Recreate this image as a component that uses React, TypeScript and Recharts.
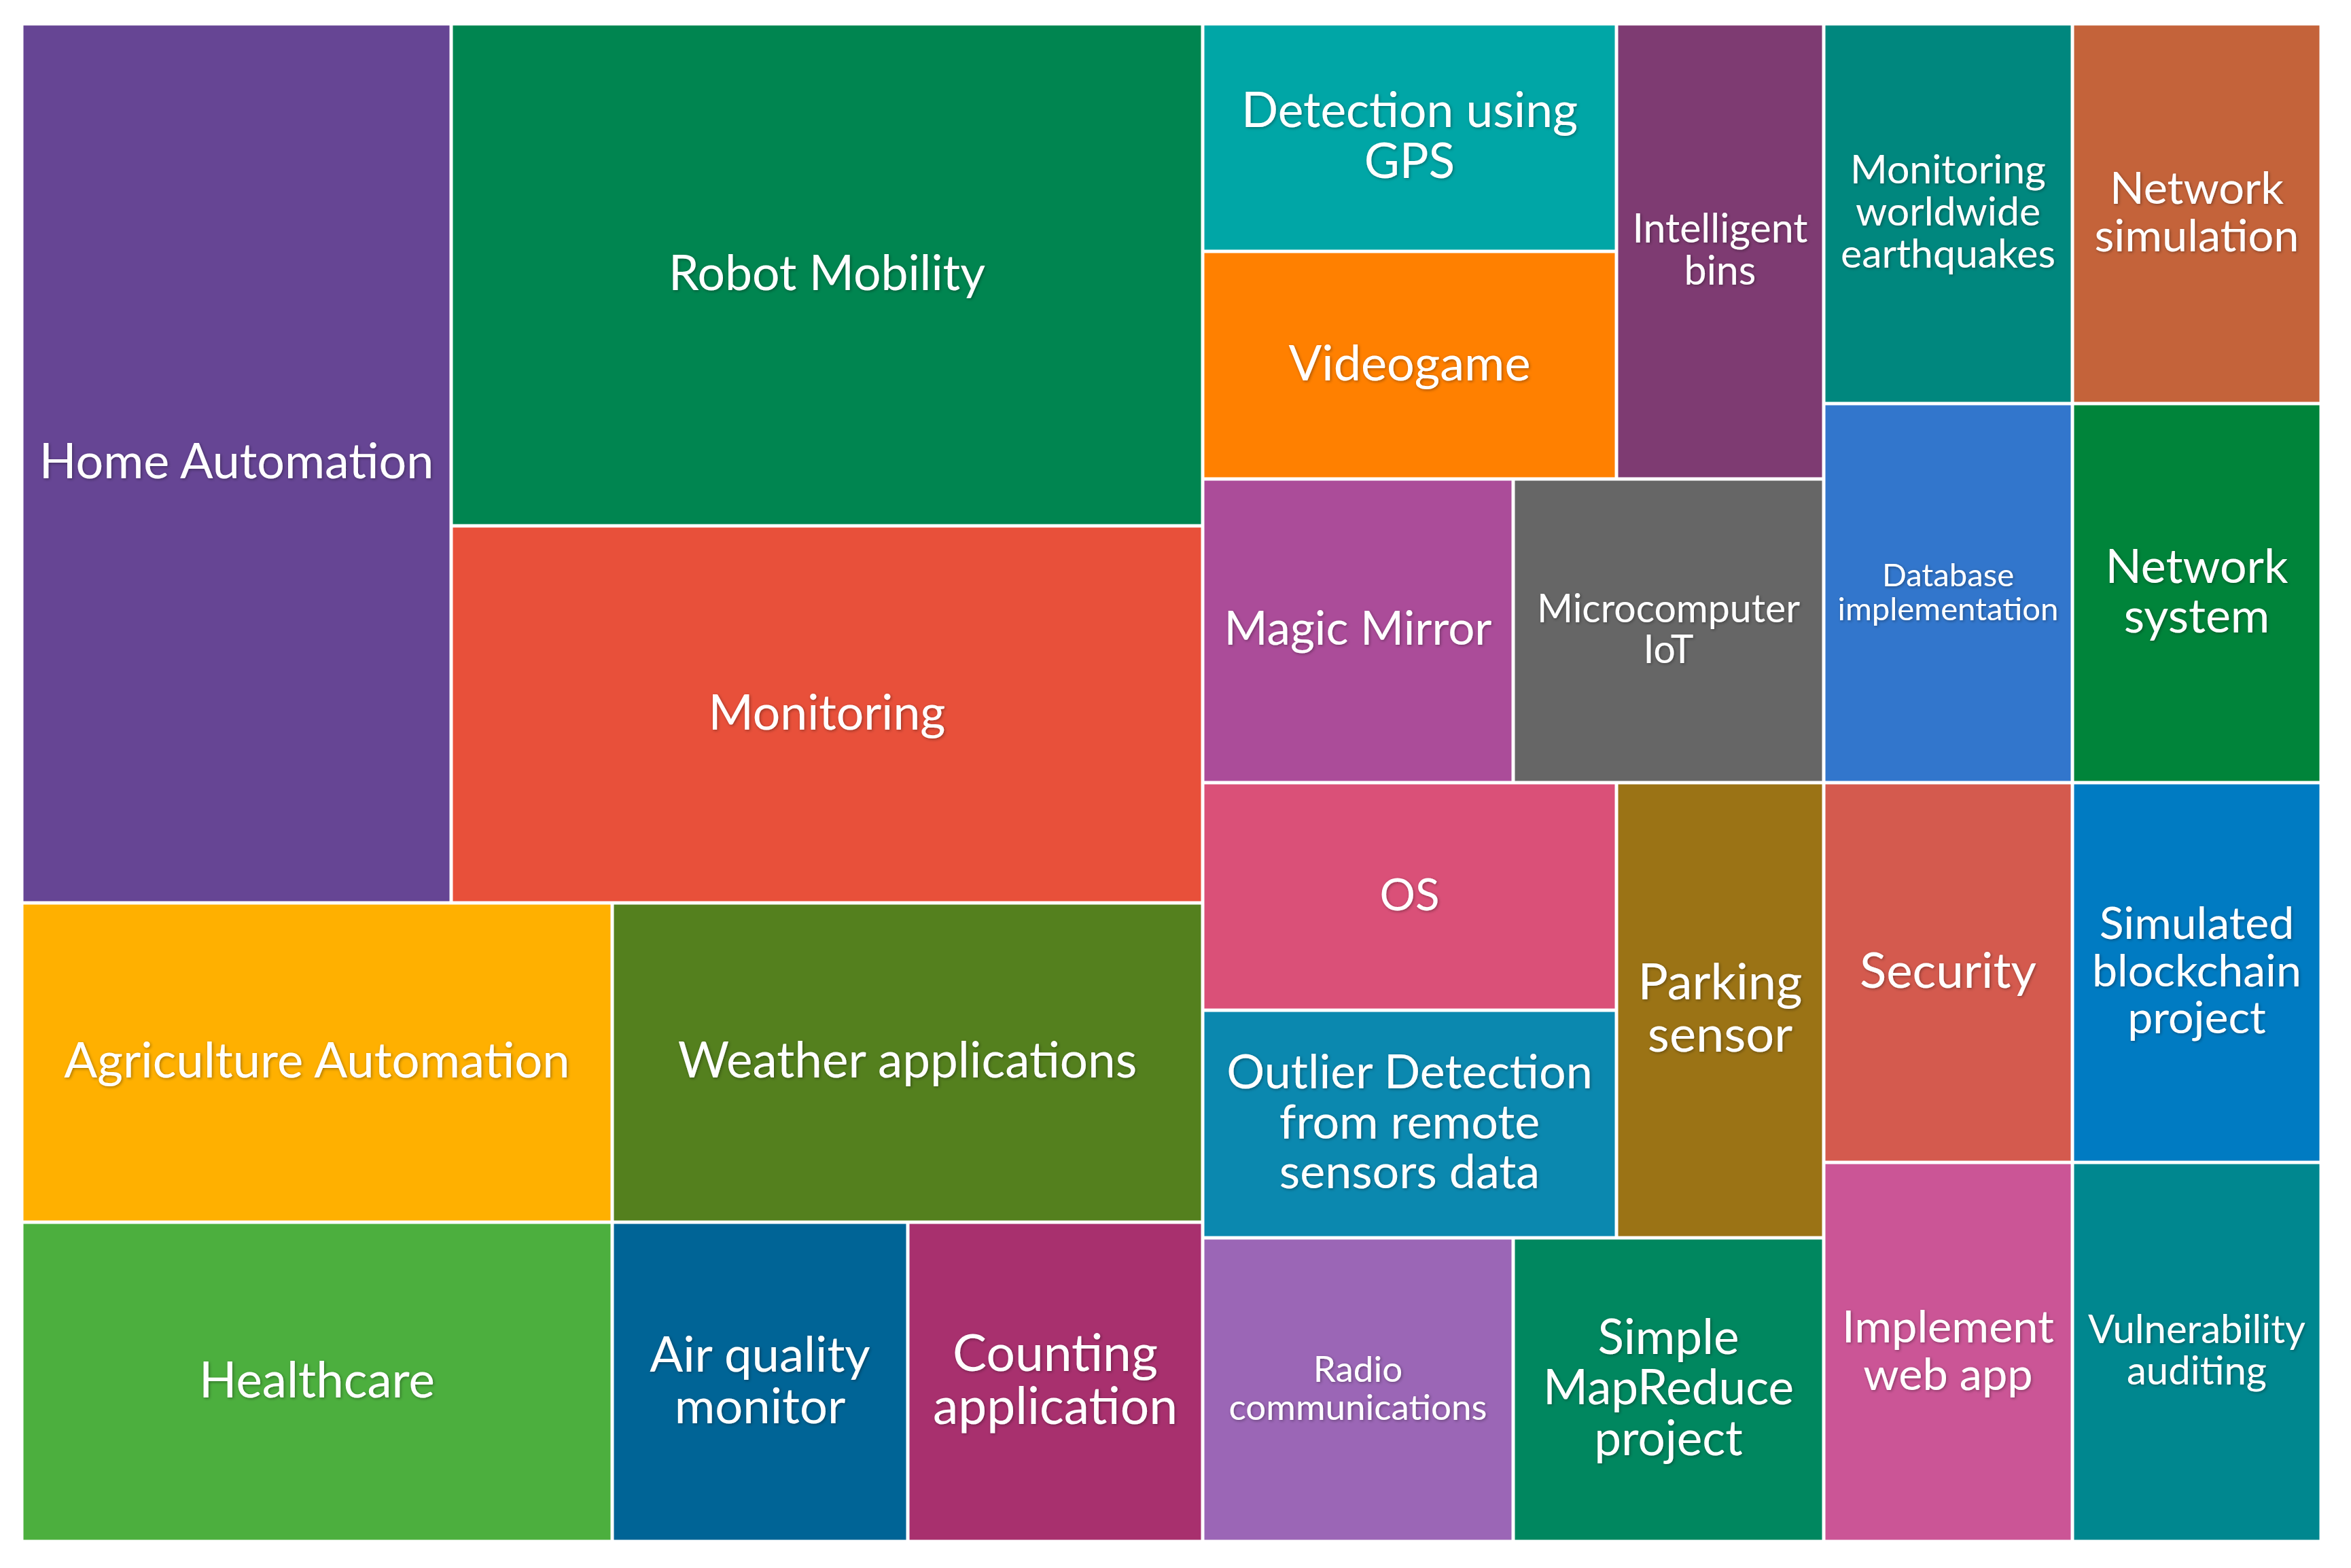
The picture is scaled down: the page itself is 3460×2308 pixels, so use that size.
import React from 'react';
import { Treemap } from 'recharts';

// ---------- data ----------
const TOPICS = [
  'Home Automation',
  'Robot Mobility',
  'Monitoring',
  'Agriculture Automation',
  'Weather applications',
  'Healthcare',
  'Air quality monitor',
  'Counting application',
  'Detection using GPS',
  'Videogame',
  'Intelligent bins',
  'Magic Mirror',
  'Microcomputer IoT',
  'Monitoring worldwide earthquakes',
  'Network simulation',
  'Database implementation',
  'Network system',
  'OS',
  'Outlier Detection from remote sensors data',
  'Parking sensor',
  'Radio communications',
  'Simple MapReduce project',
  'Security',
  'Simulated blockchain project',
  'Implement web app',
  'Vulnerability auditing',
];

const PROJECT_COUNTS = [4, 4, 3, 2, 2, 2, 1, 1, 1, 1, 1, 1, 1, 1, 1, 1, 1, 1, 1, 1, 1, 1, 1, 1, 1, 1];

const TOPIC_COLORS = [
  '#664594', '#008550', '#E8503A', '#FFB000', '#54801E', '#4CAF3E', '#006496', '#A8306E',
  '#00A6A6', '#FF8000', '#7E3B72', '#AB4C99', '#666666', '#00877E', '#C4633A', '#3276CC',
  '#00843A', '#DA5078', '#0B88AF', '#9B7315', '#9B66B6', '#00875F', '#D45A4E', '#007BC2',
  '#CB5596', '#00878F',
];

const LABEL_LINES: string[][] = [
  ['Home Automation'],
  ['Robot Mobility'],
  ['Monitoring'],
  ['Agriculture Automation'],
  ['Weather applications'],
  ['Healthcare'],
  ['Air quality', 'monitor'],
  ['Counting', 'application'],
  ['Detection using', 'GPS'],
  ['Videogame'],
  ['Intelligent', 'bins'],
  ['Magic Mirror'],
  ['Microcomputer', 'IoT'],
  ['Monitoring', 'worldwide', 'earthquakes'],
  ['Network', 'simulation'],
  ['Database', 'implementation'],
  ['Network', 'system'],
  ['OS'],
  ['Outlier Detection', 'from remote', 'sensors data'],
  ['Parking', 'sensor'],
  ['Radio', 'communications'],
  ['Simple', 'MapReduce', 'project'],
  ['Security'],
  ['Simulated', 'blockchain', 'project'],
  ['Implement', 'web app'],
  ['Vulnerability', 'auditing'],
];

// nesting of the topics (indices into TOPICS) used by the treemap layout
const LAYOUT: any[] = [
  [[[0, [1, 2]], [3, 4]], [5, 6, 7]],
  [
    [[[[8, 9], 10], [11, 12]], [[13, 14], [15, 16]]],
    [[[[17, 18], 19], [20, 21]], [[22, 23], [24, 25]]],
  ],
];

// ---------- styles ----------
// width (px) of the widest label line in each cell
const LABEL_WIDTHS = [
  583, 466, 349, 747, 677, 347, 326, 360, 495, 356, 258, 394, 387, 316, 301, 325,
  269, 88, 540, 242, 380, 369, 260, 308, 312, 320,
];
const FONT = 'Lato';
const GAP = 5;
const LINE_HEIGHT = 1.05;
const BASELINE_SHIFT = -0.08;

const buildNode = (spec: any): any => {
  if (typeof spec === 'number') {
    return { name: TOPICS[spec], value: PROJECT_COUNTS[spec], idx: spec };
  }
  return { name: '', children: spec.map(buildNode) };
};
const treeData = LAYOUT.map(buildNode);

let ctx: CanvasRenderingContext2D | null = null;
const measure = (s: string): number => {
  if (!ctx) ctx = document.createElement('canvas').getContext('2d');
  if (!ctx) return s.length * 50;
  ctx.font = `400 100px ${FONT}`;
  return ctx.measureText(s).width;
};

const renderCell = (props: any) => {
  const { x, y, width, height, children, idx } = props;
  if ((children && children.length) || idx === undefined || idx === null) return null;
  const lines = LABEL_LINES[idx];
  const widest = Math.max(...lines.map(measure));
  const fs = (LABEL_WIDTHS[idx] / widest) * 100;
  const lh = fs * LINE_HEIGHT;
  const cx = x + width / 2;
  const cy = y + height / 2 + BASELINE_SHIFT * fs;
  const n = lines.length;
  return (
    <g>
      <rect
        x={x + GAP / 2}
        y={y + GAP / 2}
        width={Math.max(0, width - GAP)}
        height={Math.max(0, height - GAP)}
        fill={TOPIC_COLORS[idx]}
      />
      <text
        fill="#ffffff"
        fontFamily={FONT}
        fontSize={fs}
        fontWeight={400}
        textAnchor="middle"
        filter="url(#labelShadow)"
      >
        {lines.map((l, i) => (
          <tspan key={i} x={cx} y={cy + (i - (n - 1) / 2) * lh} dominantBaseline="central">
            {l}
          </tspan>
        ))}
      </text>
    </g>
  );
};

export default function App() {
  return (
    <div style={{ position: 'relative', width: 3440, height: 2290, background: '#ffffff' }}>
      <svg width={0} height={0} style={{ position: 'absolute' }}>
        <defs>
          <filter id="labelShadow" x="-10%" y="-30%" width="120%" height="160%">
            <feDropShadow dx="1.5" dy="1.5" stdDeviation="2" floodColor="#000000" floodOpacity="0.35" />
          </filter>
        </defs>
      </svg>
      <div style={{ position: 'absolute', left: 24, top: 27 }}>
        <Treemap
          width={3384}
          height={2234}
          data={treeData}
          dataKey="value"
          nameKey="name"
          aspectRatio={1}
          isAnimationActive={false}
          content={renderCell as any}
        />
      </div>
    </div>
  );
}
